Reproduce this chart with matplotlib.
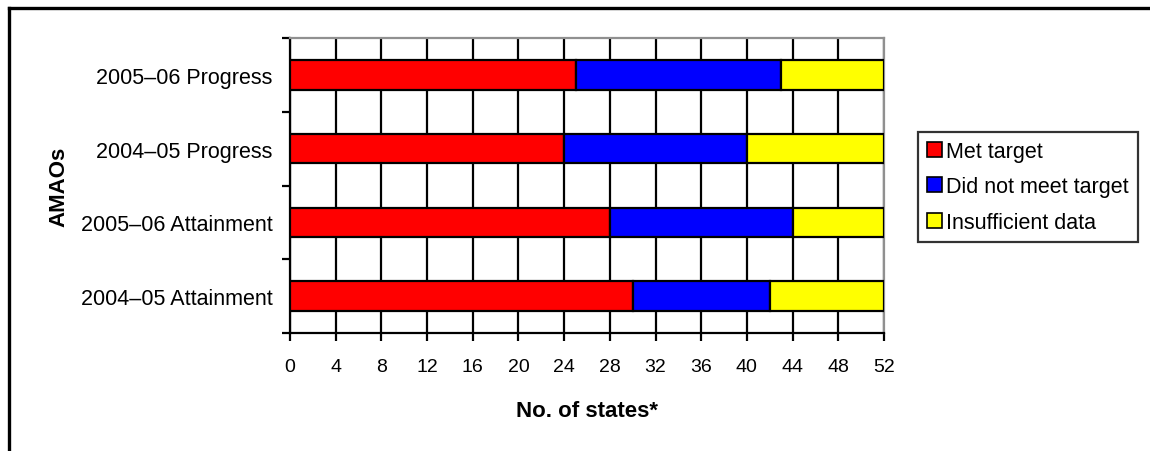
import matplotlib
matplotlib.use("Agg")
import matplotlib.pyplot as plt
from matplotlib.lines import Line2D
import numpy as np

plt.rcParams['font.family'] = ['Liberation Sans', 'DejaVu Sans']

# AMAO categories, bottom to top
categories = ["2004\u201305 Attainment", "2005\u201306 Attainment",
              "2004\u201305 Progress", "2005\u201306 Progress"]
met_target = [30, 28, 24, 25]
not_met = [12, 16, 16, 18]
insufficient = [10, 8, 12, 9]

series_names = ["Met target", "Did not meet target", "Insufficient data"]
series_colors = ["#ff0000", "#0000ff", "#ffff00"]
x_ticks = list(range(0, 53, 4))

fig = plt.figure(figsize=(11.5, 4.52), dpi=100)
ax = fig.add_axes([290 / 1150, 1 - 334 / 452, 594 / 1150, 295 / 452])

y = np.arange(len(categories))
left = np.zeros(len(categories))
for vals, name, col in zip([met_target, not_met, insufficient], series_names, series_colors):
    ax.barh(y, vals, left=left, height=0.4, color=col, edgecolor="black",
            linewidth=1.6, label=name, zorder=3)
    left += np.array(vals)

ax.set_xlim(0, 52)
ax.set_ylim(-0.5, len(categories) - 0.5)
ax.set_xticks(x_ticks)
ax.set_xticklabels([str(t) for t in x_ticks], fontsize=14)
ax.set_yticks(y)
ax.set_yticklabels(categories, fontsize=15.5)
ax.tick_params(axis="y", length=0, pad=12.5)
ax.set_yticks(np.arange(-0.5, len(categories), 1.0), minor=True)
ax.tick_params(axis="y", which="minor", length=6, width=1.6, direction="out")
ax.tick_params(axis="x", length=6, width=1.6, direction="out", pad=12)

ax.grid(axis="x", color="black", linewidth=1.6, zorder=0)
ax.set_axisbelow(True)

for side in ["left", "bottom"]:
    ax.spines[side].set_color("black")
    ax.spines[side].set_linewidth(1.6)
for side in ["top", "right"]:
    ax.spines[side].set_color("#909090")
    ax.spines[side].set_linewidth(1.6)

ax.set_xlabel("No. of states*", fontsize=16, fontweight="bold", labelpad=18)
ax.set_ylabel("AMAOs", fontsize=16, fontweight="bold", labelpad=8)

leg = ax.legend(loc="center left", bbox_to_anchor=(1.057, 0.495), fontsize=15.5,
                frameon=True, fancybox=False, edgecolor="black",
                handlelength=0.7, handleheight=0.7, handletextpad=0.2,
                borderpad=0.42, labelspacing=0.66, borderaxespad=0)
leg.get_frame().set_linewidth(1.6)
for h in leg.legend_handles:
    h.set_linewidth(1.2)

# outer frame around the figure (top and left edges)
fig.add_artist(Line2D([8.5 / 1150, 1.0], [1 - 8.5 / 452, 1 - 8.5 / 452],
                      transform=fig.transFigure, color="black", linewidth=2.4))
fig.add_artist(Line2D([8.5 / 1150, 8.5 / 1150], [1 - 8.5 / 452, 0.0],
                      transform=fig.transFigure, color="black", linewidth=2.4))

fig.savefig("out.png", dpi=100)
